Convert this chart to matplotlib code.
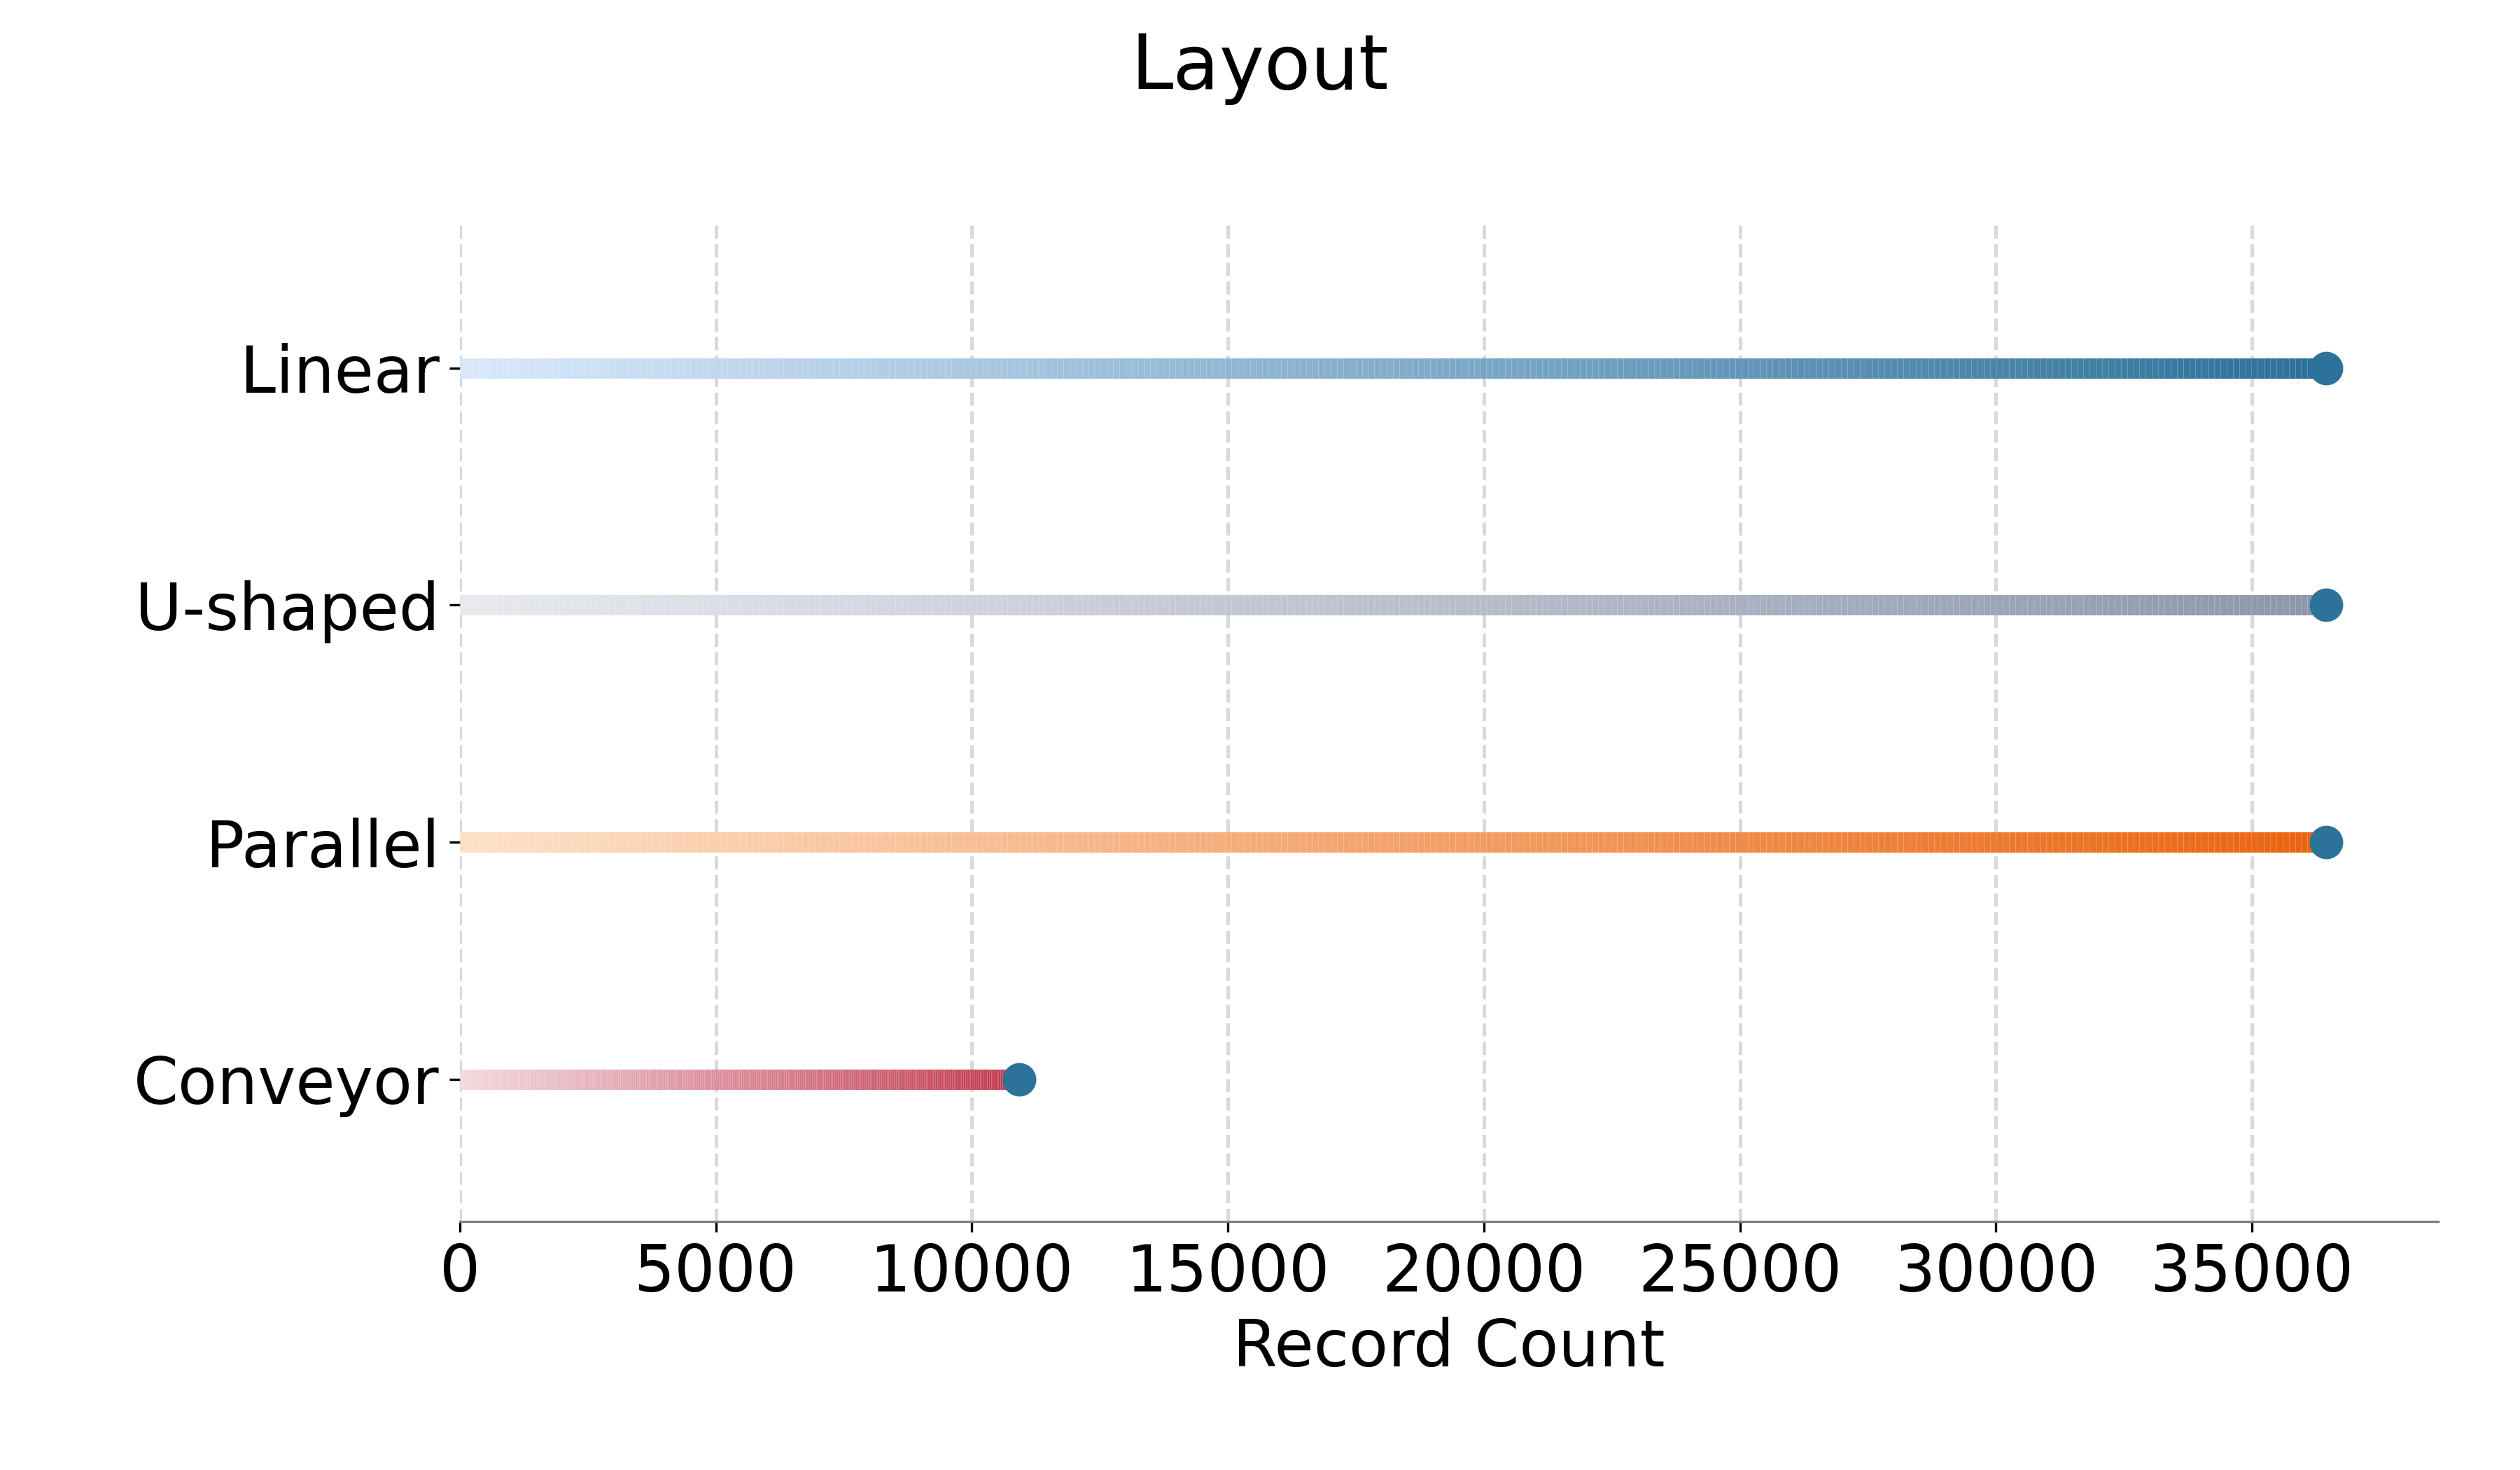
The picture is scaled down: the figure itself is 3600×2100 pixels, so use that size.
import matplotlib.pyplot as plt
import numpy as np
from matplotlib.collections import LineCollection
from matplotlib.colors import LinearSegmentedColormap

# valores
layouts = ['Conveyor', 'Parallel', 'U-shaped', 'Linear']
record_count = [10920, 36450, 36450, 36450]
cor_ini = ['#f2d6dc', '#fde0c6', '#e7e9ef', '#d8e8fb']
cor_fim = ['#c0354a', '#ea640f', '#8c97ab', '#2c7099']
cor_ponto = '#2c7299'

fig = plt.figure(figsize=(12, 7), dpi=300)
ax = fig.add_axes([0.1825, 0.169, 0.785, 0.6775])

n_seg = 300
for i, (nome, valor) in enumerate(zip(layouts, record_count)):
    cmap = LinearSegmentedColormap.from_list(nome, [cor_ini[i], cor_fim[i]])
    xs = np.linspace(0, valor, n_seg + 1)
    segs = [[(xs[k], i), (xs[k + 1], i)] for k in range(n_seg)]
    lc = LineCollection(segs, colors=cmap(np.linspace(0, 1, n_seg)),
                        linewidths=7, capstyle='butt', zorder=2)
    ax.add_collection(lc)

ax.scatter(record_count, range(len(layouts)), s=110, color=cor_ponto, zorder=3)

ax.set_xlim(0, max(record_count) * 1.06)
ax.set_ylim(-0.6, len(layouts) - 0.4)
ax.set_yticks(range(len(layouts)))
ax.set_yticklabels(layouts)
ax.set_xticks(np.arange(0, 36000, 5000))
ax.tick_params(axis='both', labelsize=22)
ax.set_xlabel('Record Count', fontsize=22)

ax.grid(axis='x', linestyle='--', color='#d9d9d9', linewidth=1.2, zorder=0)
ax.set_axisbelow(True)
for lado in ['top', 'right', 'left']:
    ax.spines[lado].set_visible(False)
ax.spines['bottom'].set_color('#808080')

fig.suptitle('Layout', fontsize=26, y=0.954, va='center')

plt.savefig('out.png', dpi=300)
plt.close()
